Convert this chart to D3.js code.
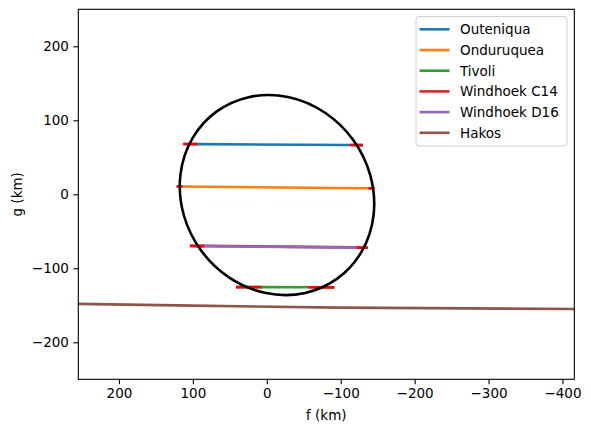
<!DOCTYPE html>
<html>
<head>
<meta charset="utf-8">
<script src="https://cdn.jsdelivr.net/npm/d3@7"></script>
<style>
  html, body { margin: 0; padding: 0; background: #fff; }
  text { font-family: "DejaVu Sans", sans-serif; }
</style>
</head>
<body>
<svg id="chart" width="591" height="432"></svg>
<script>
// ---- data ----
const seriesNames = ["Outeniqua", "Onduruquea", "Tivoli", "Windhoek C14", "Windhoek D16", "Hakos"];
const seriesColors = ["#1f77b4", "#ff7f0e", "#2ca02c", "#d62728", "#9467bd", "#8c564b"];
// each line: 4 points [outer-left, inner-left, inner-right, outer-right]
const lineF = [
  [113.1, 94.1, -112.7, -129.9],
  [122.0, 113.9, -137.5, -145.6],
  [41.7, 6.9, -56.2, -91.4],
  [104.0, 84.7, -121.8, -136.7],
  [104.0, 84.7, -121.8, -136.7],
  [260, 100, -100, -420]
];
const lineG = [
  [68.0, 67.8, 66.6, 66.4],
  [10.6, 10.5, 8.1, 8.0],
  [-125.4, -125.5, -125.7, -125.8],
  [-69.5, -69.7, -71.7, -71.8],
  [-69.9, -70.1, -72.1, -72.2],
  [-148.0, -150.4, -153.2, -155.1]
];
const hasRedEnds = [true, true, true, false, true, false];
const xTicks = [200, 100, 0, -100, -200, -300, -400];
const yTicks = [200, 100, 0, -100, -200];
const xDomain = [255, -416];
const yDomain = [-250, 250];
const ellipseCenter = [-13.8, -1.0];
const ellipseRadii = [139.4, 127.2];
const ellipseAngle = 54;

// ---- layout ----
const svg = d3.select("#chart");
const mLeft = 78.3, mRight = 574.3, mTop = 9.3, mBottom = 379.3;
const x = d3.scaleLinear().domain(xDomain).range([mLeft, mRight]);
const y = d3.scaleLinear().domain(yDomain).range([mBottom, mTop]);
const fmt = d3.format("d");

svg.append("defs").append("clipPath").attr("id", "clip")
  .append("rect").attr("x", mLeft).attr("y", mTop).attr("width", mRight - mLeft).attr("height", mBottom - mTop);

const plot = svg.append("g").attr("clip-path", "url(#clip)");
const line = d3.line().x(d => x(d[0])).y(d => y(d[1]));

seriesNames.forEach((name, i) => {
  const pts = lineF[i].map((f, j) => [f, lineG[i][j]]);
  plot.append("path").attr("d", line(pts)).attr("fill", "none")
    .attr("stroke", seriesColors[i]).attr("stroke-width", 2.6);
});
seriesNames.forEach((name, i) => {
  if (!hasRedEnds[i]) return;
  const pts = lineF[i].map((f, j) => [f, lineG[i][j]]);
  [[pts[0], pts[1]], [pts[2], pts[3]]].forEach(seg => {
    plot.append("path").attr("d", line(seg)).attr("fill", "none")
      .attr("stroke", "#ff0000").attr("stroke-width", 2.6);
  });
});

const kx = Math.abs(x(1) - x(0));
plot.append("ellipse")
  .attr("rx", ellipseRadii[0] * kx).attr("ry", ellipseRadii[1] * kx)
  .attr("transform", `translate(${x(ellipseCenter[0])},${y(ellipseCenter[1])}) rotate(${ellipseAngle})`)
  .attr("fill", "none").attr("stroke", "#000").attr("stroke-width", 2.6);

// ---- axes ----
const xAxis = d3.axisBottom(x).tickValues(xTicks).tickFormat(fmt).tickSize(4.9).tickPadding(4.5);
const yAxis = d3.axisLeft(y).tickValues(yTicks).tickFormat(fmt).tickSize(4.9).tickPadding(4.5);
const gx = svg.append("g").attr("transform", `translate(0,${mBottom})`).call(xAxis);
const gy = svg.append("g").attr("transform", `translate(${mLeft},0)`).call(yAxis);
[gx, gy].forEach(g => {
  g.select(".domain").remove();
  g.selectAll("line").attr("stroke", "#000").attr("stroke-width", 1.1);
  g.selectAll("text").attr("font-size", 13.5).attr("font-family", "DejaVu Sans").attr("fill", "#000");
});

svg.append("rect").attr("x", mLeft).attr("y", mTop).attr("width", mRight - mLeft).attr("height", mBottom - mTop)
  .attr("fill", "none").attr("stroke", "#000").attr("stroke-width", 1.1);

svg.append("text").attr("x", (mLeft + mRight) / 2).attr("y", 420).attr("text-anchor", "middle")
  .attr("font-size", 13.5).text("f (km)");
svg.append("text").attr("transform", `translate(22,${(mTop + mBottom) / 2}) rotate(-90)`).attr("text-anchor", "middle")
  .attr("font-size", 13.5).text("g (km)");

// ---- legend ----
const lg = svg.append("g");
lg.append("rect").attr("x", 416).attr("y", 16.5).attr("width", 151).attr("height", 129.5).attr("rx", 3)
  .attr("fill", "#fff").attr("fill-opacity", 0.8).attr("stroke", "#d0d0d0").attr("stroke-width", 1);
seriesNames.forEach((name, i) => {
  const cy = 29.3 + i * 20.7;
  lg.append("line").attr("x1", 419.5).attr("x2", 449.5).attr("y1", cy).attr("y2", cy)
    .attr("stroke", seriesColors[i]).attr("stroke-width", 2.6);
  lg.append("text").attr("x", 460).attr("y", cy + 4.8).attr("font-size", 13.5).text(name);
});
</script>
</body>
</html>
